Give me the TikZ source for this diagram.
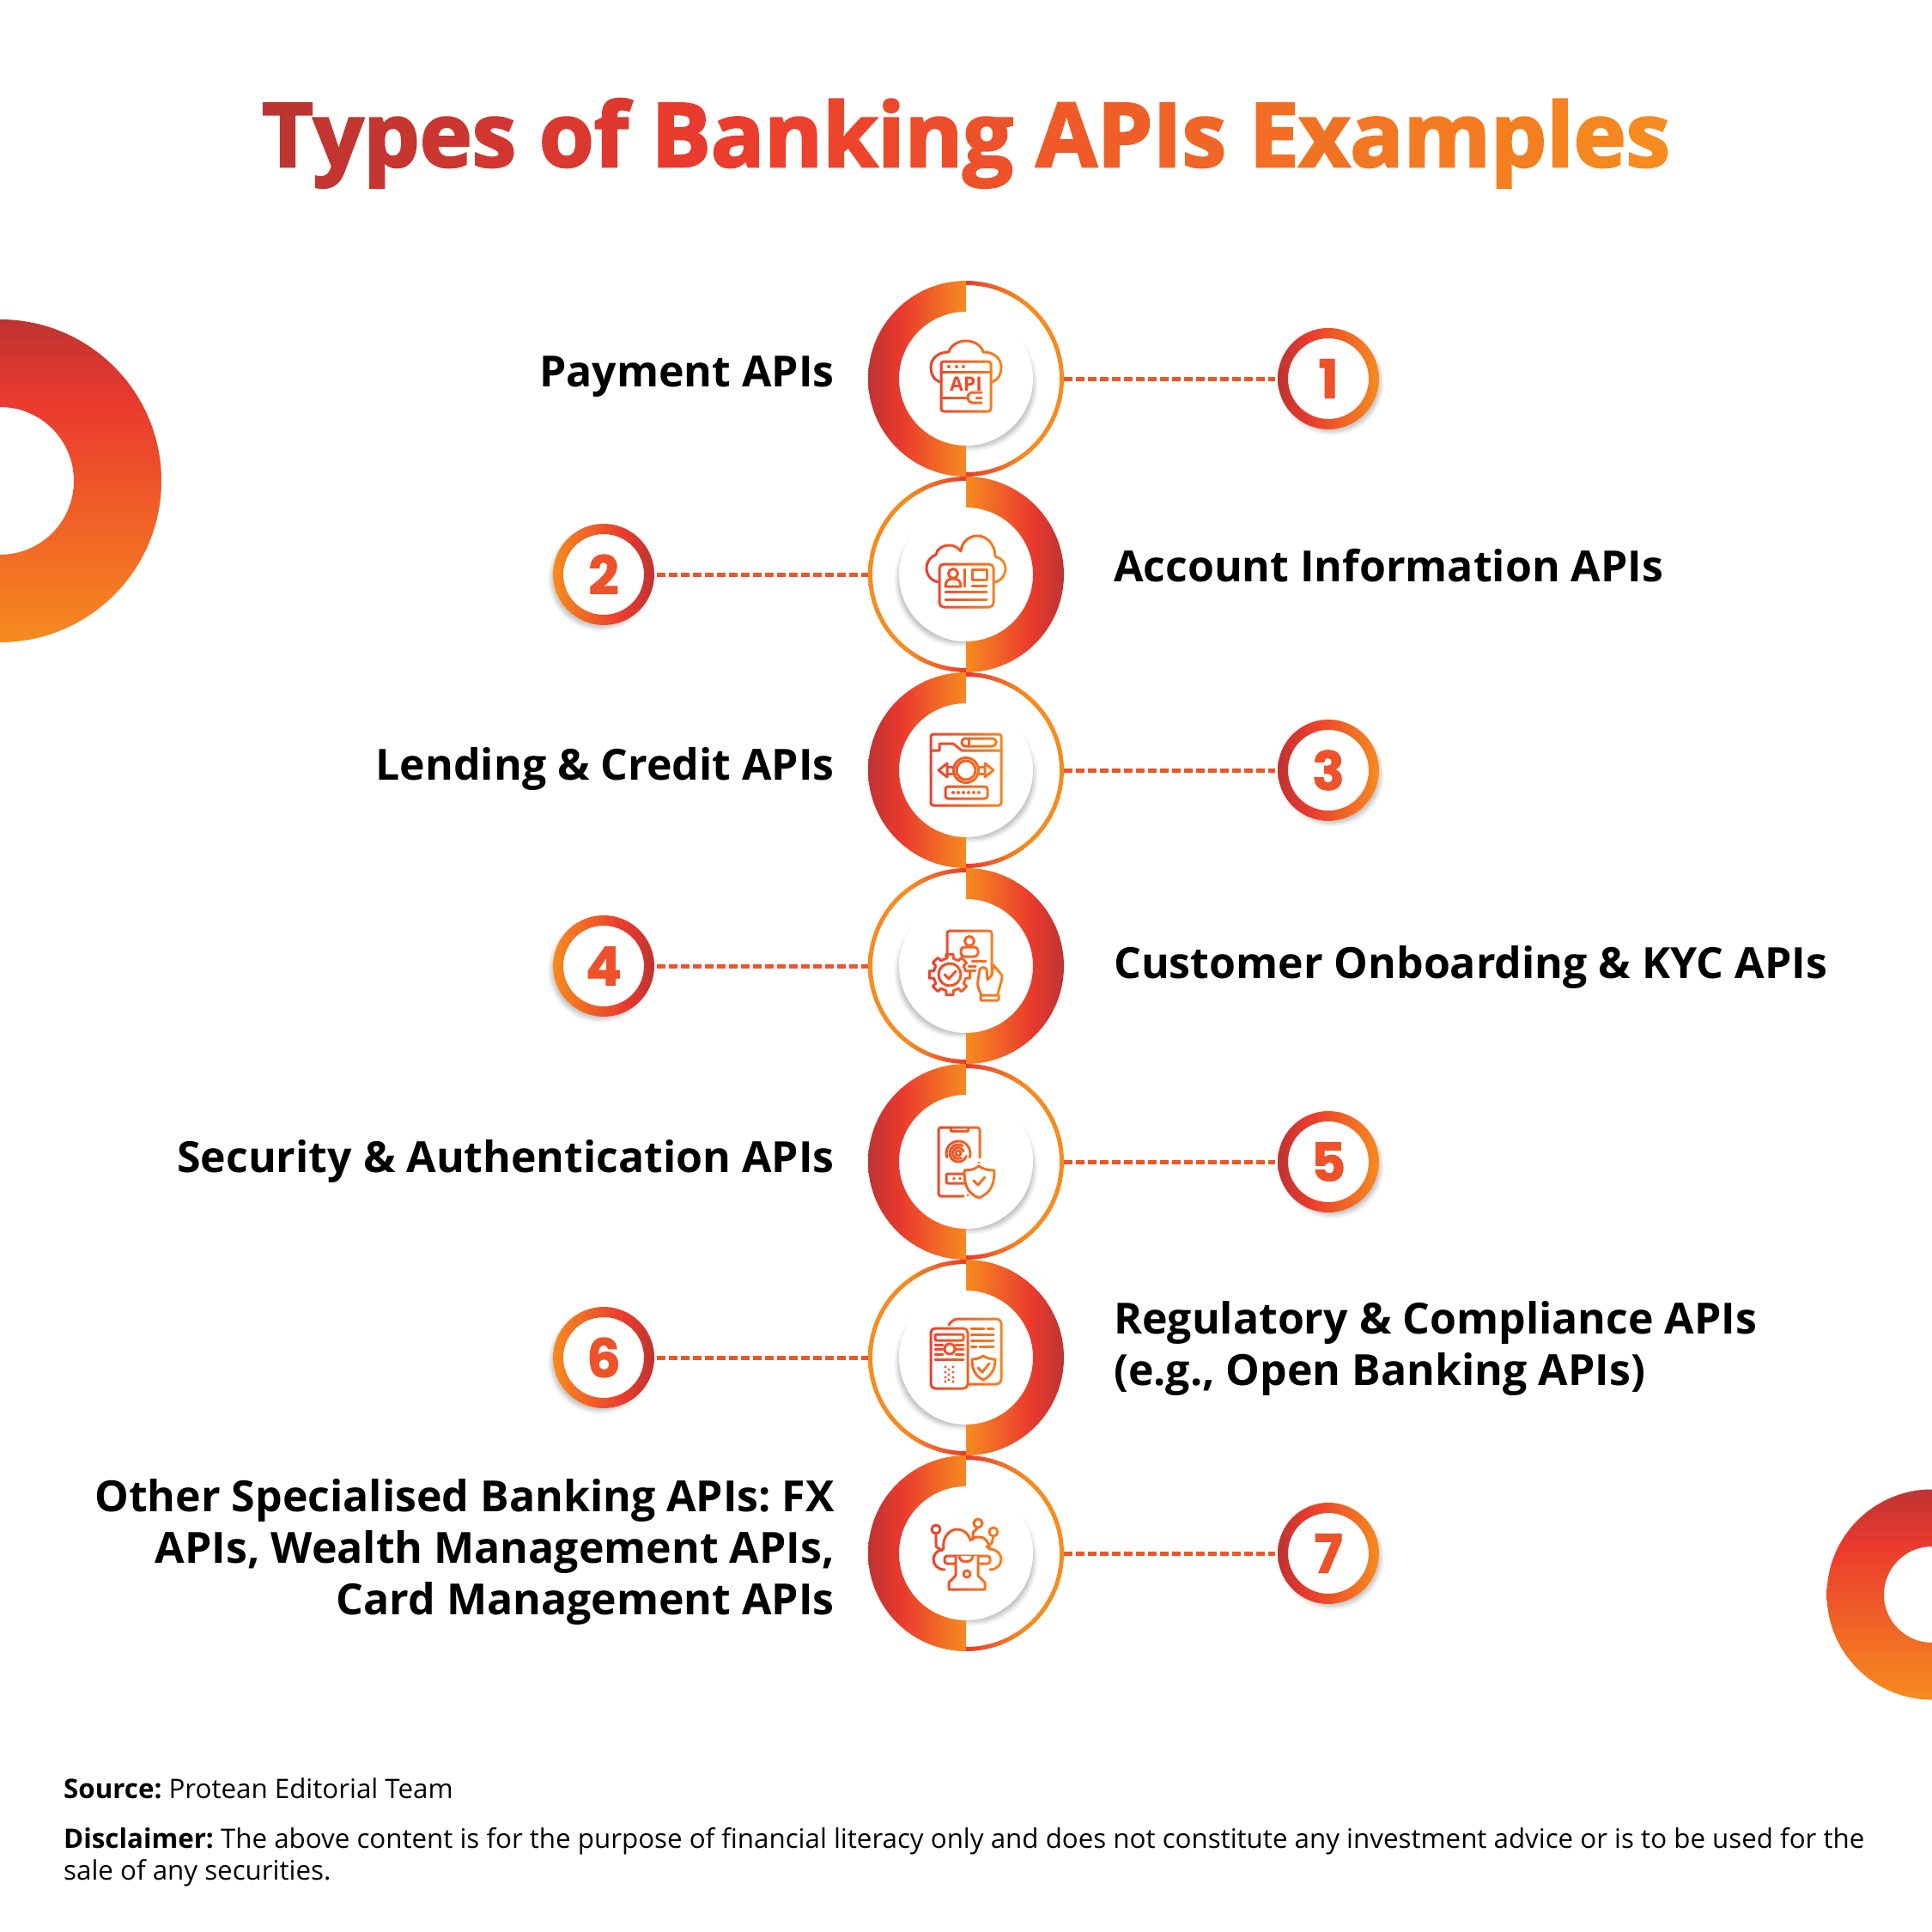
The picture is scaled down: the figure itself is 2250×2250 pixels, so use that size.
\documentclass[tikz,border=0pt]{standalone}
\usepackage{fontspec}
\usetikzlibrary{shadows.blur}
\setmainfont{Open Sans}
\newfontfamily\titlefont{Open Sans}[BoldFeatures={FakeBold=2.6}]
\newfontfamily\digitfont{Poppins}[BoldFeatures={FakeBold=1.5}]
\frenchspacing

\definecolor{apidark}{HTML}{BE3431}
\definecolor{apired}{HTML}{EA3A2E}
\definecolor{apiorange}{HTML}{F68B1F}
\definecolor{apidash}{HTML}{EE5528}

\pgfdeclarehorizontalshading{thickleft}{100bp}{color(0bp)=(apidark); color(25bp)=(apidark); color(42bp)=(apired); color(75bp)=(apiorange); color(100bp)=(apiorange)}
\pgfdeclarehorizontalshading{thickright}{100bp}{color(0bp)=(apiorange); color(25bp)=(apiorange); color(58bp)=(apired); color(75bp)=(apidark); color(100bp)=(apidark)}
\pgfdeclarehorizontalshading{thinright}{100bp}{color(0bp)=(apired); color(25bp)=(apired); color(55bp)=(apiorange); color(100bp)=(apiorange)}
\pgfdeclarehorizontalshading{thinleft}{100bp}{color(0bp)=(apiorange); color(45bp)=(apiorange); color(75bp)=(apired); color(100bp)=(apired)}
\pgfdeclarehorizontalshading{badgeodd}{100bp}{color(0bp)=(apidark); color(25bp)=(apidark); color(40bp)=(apired); color(75bp)=(apiorange); color(100bp)=(apiorange)}
\pgfdeclarehorizontalshading{badgeeven}{100bp}{color(0bp)=(apiorange); color(25bp)=(apiorange); color(60bp)=(apired); color(75bp)=(apidark); color(100bp)=(apidark)}
\pgfdeclareverticalshading{donut}{100bp}{color(0bp)=(apiorange); color(25bp)=(apiorange); color(62bp)=(apired); color(75bp)=(apidark); color(100bp)=(apidark)}

% icons, drawn round (0,0)
\newcommand{\iconpayment}{
	\draw[iconline] (-29,-4) .. controls (-38,-2) and (-41,6) .. (-41,13) .. controls (-41,24) and (-32,31) .. (-20,31) .. controls (-18,39) and (-9,44) .. (0,44) .. controls (9,44) and (18,39) .. (20,31) .. controls (32,31) and (41,24) .. (41,13) .. controls (41,6) and (38,-2) .. (29,-4);
	\draw[iconline,rounded corners=3] (-29,-38) rectangle (29,20);
	\draw[iconline] (-29,8) -- (29,8);
	\foreach \x in {-20,-11,-3}
		\fill[iconcol] (\x,14) circle (2);
	\draw[iconline] (-29,-22) -- (0,-22);
	\draw[iconline] (18,-16) -- (8,-16) arc[start angle=90,end angle=270,radius=6] -- (18,-28);
	\draw[iconline] (12,-22) -- (18,-22);
}
\newcommand{\iconaccount}{
	\draw[iconline] (-31,-9) .. controls (-41,-8) and (-46,0) .. (-46,7) .. controls (-46,15) and (-42,20) .. (-35,23) .. controls (-34,30) and (-27,34) .. (-19,34) .. controls (-14,34) and (-9,31) .. (-6,27) .. controls (-5,38) and (4,45) .. (13,45) .. controls (25,45) and (34,34) .. (34,21) .. controls (41,19) and (46,14) .. (46,7) .. controls (46,0) and (41,-8) .. (33,-9);
	\draw[iconline,fill=white,rounded corners=5] (-31,-38) rectangle (32,12);
	\draw[iconline] (-15,1) circle (5.5);
	\draw[iconline] (-24,-14) .. controls (-24,-8) and (-21,-5) .. (-15,-5) .. controls (-9,-5) and (-6,-8) .. (-6,-14) -- cycle;
	\draw[iconline] (-2,6) -- (-2,-14);
	\draw[iconline] (7,-6) rectangle (24,6);
	\draw[iconline] (7,-13) -- (24,-13);
	\draw[iconline] (-24,-20) -- (24,-20);
	\draw[iconline] (-24,-29) -- (24,-29);
}
\newcommand{\iconlending}{
	\draw[iconline,rounded corners=3] (-41,23) -- (-41,-41) -- (41,-41) -- (41,42) -- (-41,42) -- cycle;
	\draw[iconline] (-41,23) -- (-31,23) -- (-31,31) -- (-15,31) -- (-5,23) -- (41,23);
	\draw[iconline,fill=white,rounded corners=4] (-5,28) rectangle (35,37);
	\draw[iconline] (3,28) -- (3,37);
	\draw[iconline] (0,0) circle (14.5);
	\draw[iconline] (0,0) circle (11);
	\draw[iconline] (-22,-8) -- (-32,0) -- (-22,8) -- cycle;
	\draw[iconline] (22,-8) -- (32,0) -- (22,8) -- cycle;
	\draw[iconline] (-22,4) -- (-14,4) (-22,-4) -- (-14,-4) (22,4) -- (14,4) (22,-4) -- (14,-4);
	\draw[iconline,rounded corners=3] (-24,-33) rectangle (25,-19);
	\foreach \x in {-15,-9,-3,3,9,15}
		\fill[iconcol] (\x,-26) circle (2);
}
\newcommand{\iconcustomer}{
	\draw[iconline,rounded corners=3] (-22,9) -- (-22,41) -- (30,41) -- (30,-11);
	\draw[iconline] (4,29) circle (5.5);
	\draw[iconline,rounded corners=4] (-6,11) -- (-6,22) -- (14,22) -- (14,11) -- cycle;
	\draw[iconline] (7,6) -- (23,6) (3,0) -- (11,0) (5,-5) -- (11,-5);
	\draw[iconline] (-19,-10) circle (13);
	\draw[iconline] (-25,-10) -- (-20,-15) -- (-12,-6);
	\foreach \a in {0,45,...,315}
		\draw[iconline] ([shift={(-19,-10)}]\a-13:19) -- ([shift={(-19,-10)}]\a-10:24) -- ([shift={(-19,-10)}]\a+10:24) -- ([shift={(-19,-10)}]\a+13:19) arc[start angle=\a+13,end angle=\a+32,radius=19];
	\draw[iconline,fill=white] (18,-34) .. controls (14,-26) and (13,-22) .. (14,-17) -- (16,-4) .. controls (18,-1) and (22,-1) .. (24,-4) -- (25,-16) -- (30,-11) -- (32,1) -- (42,-11) .. controls (42,-18) and (38,-26) .. (37,-34);
	\draw[iconline,rounded corners=1] (17,-40) rectangle (38,-34);
}
\newcommand{\iconsecurity}{
	\draw[iconline,rounded corners=3] (-3,-40) -- (-32,-40) -- (-32,40) -- (16,40) -- (16,5);
	\draw[iconline] (-18,40) -- (-18,36) -- (2,36) -- (2,40);
	\fill[iconcol] (15,-1) circle (1.5) (2,-39) circle (1.5);
	\foreach \r/\s/\e in {3/0/360,6.5/20/300,10/60/340,14/-20/200}
		\draw[iconline] (-9,10) ++(\s:\r) arc[start angle=\s,end angle=\e,radius=\r];
	\draw[iconline,rounded corners=2] (-2,-14) -- (-23,-14) -- (-23,-25) -- (-2,-25);
	\fill[iconcol] (-14,-19.5) circle (1.8) (-7,-19.5) circle (1.8);
	\draw[iconline,fill=white] (15,-5) .. controls (20,-9) and (27,-10) .. (33,-10) .. controls (33,-25) and (30,-36) .. (15,-42) .. controls (0,-36) and (-2,-25) .. (-2,-10) .. controls (4,-10) and (10,-9) .. (15,-5) -- cycle;
	\draw[iconline] (9,-22) -- (14,-27) -- (22,-18);
}
\newcommand{\iconcompliance}{
	\draw[iconline,rounded corners=6] (-20,38) -- (-15,45) -- (41,45) -- (41,-31) -- (2,-31);
	\draw[iconline,fill=white,rounded corners=5] (-41,-36) rectangle (2,34);
	\draw[iconline,rounded corners=2] (-36,20) rectangle (-3,27);
	\draw[iconline] (-19,10) circle (6);
	\draw[iconline] (-36,15) -- (-27,15) (-36,9.5) -- (-27,9.5) (-36,4) -- (-27,4) (-12,15) -- (-3,15) (-12,9.5) -- (-3,9.5) (-12,4) -- (-3,4);
	\draw[iconline] (-36,-2) -- (-3,-2);
	\foreach \x/\y in {-24/-11,-15/-11,-20/-14,-24/-17,-15/-17,-20/-20,-24/-23,-15/-23,-20/-26,-24/-28,-15/-28}
		\fill[iconcol] (\x,\y) circle (1.6);
	\draw[iconline] (6,34) -- (21,34) (25,34) -- (32,34) (6,27) -- (32,27) (6,20) -- (32,20) (6,13) -- (12,13) (16,13) -- (32,13);
	\draw[iconline] (20,2) .. controls (24,-1) and (30,-2) .. (34,-2) .. controls (34,-13) and (30,-21) .. (20,-26) .. controls (10,-21) and (7,-13) .. (7,-2) .. controls (11,-2) and (16,-1) .. (20,2) -- cycle;
	\draw[iconline] (14,-12) -- (19,-17) -- (27,-7);
}
\newcommand{\iconother}{
	\draw[iconline] (-25,-19) .. controls (-33,-19) and (-38,-13) .. (-38,-7) .. controls (-38,-1) and (-33,4) .. (-26,5) .. controls (-28,18) and (-20,28) .. (-10,28) .. controls (-3,28) and (3,23) .. (5,15) .. controls (8,19) and (12,19) .. (16,19) .. controls (22,19) and (27,13) .. (27,5) .. controls (35,5) and (41,0) .. (41,-7) .. controls (41,-13) and (36,-19) .. (28,-19);
	\draw[iconline,fill=white,rounded corners=3] (-25,-12) rectangle (28,-3);
	\draw[iconline,fill=white] (-12,-3) -- (-12,-26) -- (-20,-34) -- (-20,-42) -- (22,-42) -- (22,-34) -- (14,-26) -- (14,-3);
	\draw[iconline] (-8,-3) .. controls (-8,-12) and (8,-12) .. (8,-3);
	\draw[iconline] (1,-24) circle (4);
	\draw[iconline] (-35,28) circle (5) (14,35) circle (5) (32,25) circle (5);
	\draw[iconline] (-35,23) -- (-35,8) -- (-28,3) (14,30) -- (8,24) -- (8,16) (32,20) -- (30,12) -- (24,7);
}

\begin{document}
\begin{tikzpicture}[x=1pt,y=1pt]
	\tikzstyle{iconline} = [draw=iconcol,line width=3pt,line cap=round,line join=round]
	\tikzstyle{hubring} = [circle,minimum size=228pt,inner sep=0pt]
	\tikzstyle{hubdisc} = [circle,fill=white,minimum size=156pt,inner sep=0pt]
	\tikzstyle{badge} = [circle,fill=white,minimum size=118pt,inner sep=0pt,outer sep=3pt,font={\digitfont\fontsize{62}{62}\selectfont\bfseries},text=apired!70!apiorange]
	\tikzstyle{connector} = [draw=apidash,line width=5pt,dash pattern=on 10pt off 4pt]
	\tikzstyle{itemlabel} = [inner sep=0pt,font={\fontsize{50}{60}\selectfont\bfseries}]
	\tikzstyle{footer} = [inner sep=0pt,anchor=base west,font={\fontsize{31.3}{37}\selectfont},align=left]
	\useasboundingbox (0,0) rectangle (2250,-2250);
	% half rings and their icon strips
	\newcommand{\halfring}[6]{\shade[shading=#6] ([shift={#1}]#2:#4) arc[start angle=#2,end angle=#3,radius=#4] -- ([shift={#1}]#3:#5) arc[start angle=#3,end angle=#2,radius=#5] -- cycle;}
	\newcommand{\gradicon}[2]{
		\foreach \s in {0,...,12}{
			\pgfmathsetmacro{\pct}{\s*100/12}
			\colorlet{iconcol}{apiorange!\pct!apired}
			\begin{scope}[shift={#1}]
				\clip (-52+\s*8,-50) rectangle +(8.4,100);
				#2
			\end{scope}
		}
	}
	% corner donuts
	\shade[shading=donut,even odd rule] (0,-560) circle (188) (0,-560) circle (86);
	\shade[shading=donut,even odd rule] (2250,-1857) circle (122.5) (2250,-1857) circle (56);
	% title
	\node[inner sep=0pt,anchor=base] (title) at (1125,-194) {\titlefont\fontsize{103.2}{104}\selectfont\bfseries
		\foreach \ch [count=\n] in {T,y,p,e,s,~,o,f,~,B,a,n,k,i,n,g,~,A,P,I,s,~,E,x,a,m,p,l,e,s}{%
			\pgfmathsetmacro{\pos}{(\n-1)*100/29}%
			\pgfmathparse{\pos<32 ? \pos/32*100 : 100}\edef\pa{\pgfmathresult}%
			\pgfmathparse{\pos<32 ? 0 : (\pos-32)/68*100}\edef\pb{\pgfmathresult}%
			\textcolor{apiorange!\pb!apired!\pa!apidark}{\ch}}};
	% hubs and badges, odd rows
	\foreach \i/\yy/\icon in {1/-441/\iconpayment,3/-897/\iconlending,5/-1353/\iconsecurity,7/-1809/\iconother}{
		\node[hubring] (hub\i) at (1125,\yy) {};
		\node[hubdisc,blur shadow={shadow xshift=6pt,shadow yshift=-7pt,shadow scale=.95,shadow blur radius=5pt,shadow opacity=25}] (disc\i) at (1125,\yy) {};
		\node[badge,blur shadow={shadow xshift=4pt,shadow yshift=-5pt,shadow scale=.97,shadow blur radius=5pt,shadow opacity=25}] (badge\i) at (1547,\yy) {\i};
		\draw[connector] (hub\i) -- (badge\i);
		\halfring{(1125,\yy)}{90}{270}{114}{78}{thickleft}
		\halfring{(1125,\yy)}{-90}{90}{114}{109}{thinright}
		\shade[shading=badgeodd,even odd rule] (1547,\yy) circle (59) (1547,\yy) circle (47);
		\gradicon{(1125,\yy)}{\icon}
	}
	% hubs and badges, even rows
	\foreach \i/\yy/\icon in {2/-669/\iconaccount,4/-1125/\iconcustomer,6/-1581/\iconcompliance}{
		\node[hubring] (hub\i) at (1125,\yy) {};
		\node[hubdisc,blur shadow={shadow xshift=-6pt,shadow yshift=-7pt,shadow scale=.95,shadow blur radius=5pt,shadow opacity=25}] (disc\i) at (1125,\yy) {};
		\node[badge,blur shadow={shadow xshift=-4pt,shadow yshift=-5pt,shadow scale=.97,shadow blur radius=5pt,shadow opacity=25}] (badge\i) at (703,\yy) {\i};
		\draw[connector] (badge\i) -- (hub\i);
		\halfring{(1125,\yy)}{-90}{90}{114}{78}{thickright}
		\halfring{(1125,\yy)}{90}{270}{114}{109}{thinleft}
		\shade[shading=badgeeven,even odd rule] (703,\yy) circle (59) (703,\yy) circle (47);
		\gradicon{(1125,\yy)}{\icon}
	}
	\node[inner sep=0pt,font={\fontsize{23}{23}\selectfont\bfseries},text=apired!80!apiorange] (apitag) at (1125,-447) {API};
	% labels
	\node[itemlabel,anchor=base east] (label1) at (972,-450) {Payment APIs};
	\node[itemlabel,anchor=base west] (label2) at (1297,-677) {Account Information APIs};
	\node[itemlabel,anchor=base east] (label3) at (972,-908) {Lending \& Credit APIs};
	\node[itemlabel,anchor=base west] (label4) at (1297,-1139) {Customer Onboarding \& KYC APIs};
	\node[itemlabel,anchor=base east] (label5) at (972,-1365) {Security \& Authentication APIs};
	\node[itemlabel,anchor=west,align=left] (label6) at (1297,-1570) {Regulatory \& Compliance APIs\\(e.g., Open Banking APIs)};
	\node[itemlabel,anchor=east,align=right] (label7) at (972,-1807) {Other Specialised Banking APIs: FX\\APIs, Wealth Management APIs,\\Card Management APIs};
	% footer
	\node[footer] (source) at (74,-2094) {\textbf{Source:} Protean Editorial Team};
	\node[footer] (disclaimer) at (74,-2189) {\textbf{Disclaimer:} The above content is for the purpose of financial literacy only and does not constitute any investment advice or is to be used for the\\sale of any securities.};
\end{tikzpicture}
\end{document}
